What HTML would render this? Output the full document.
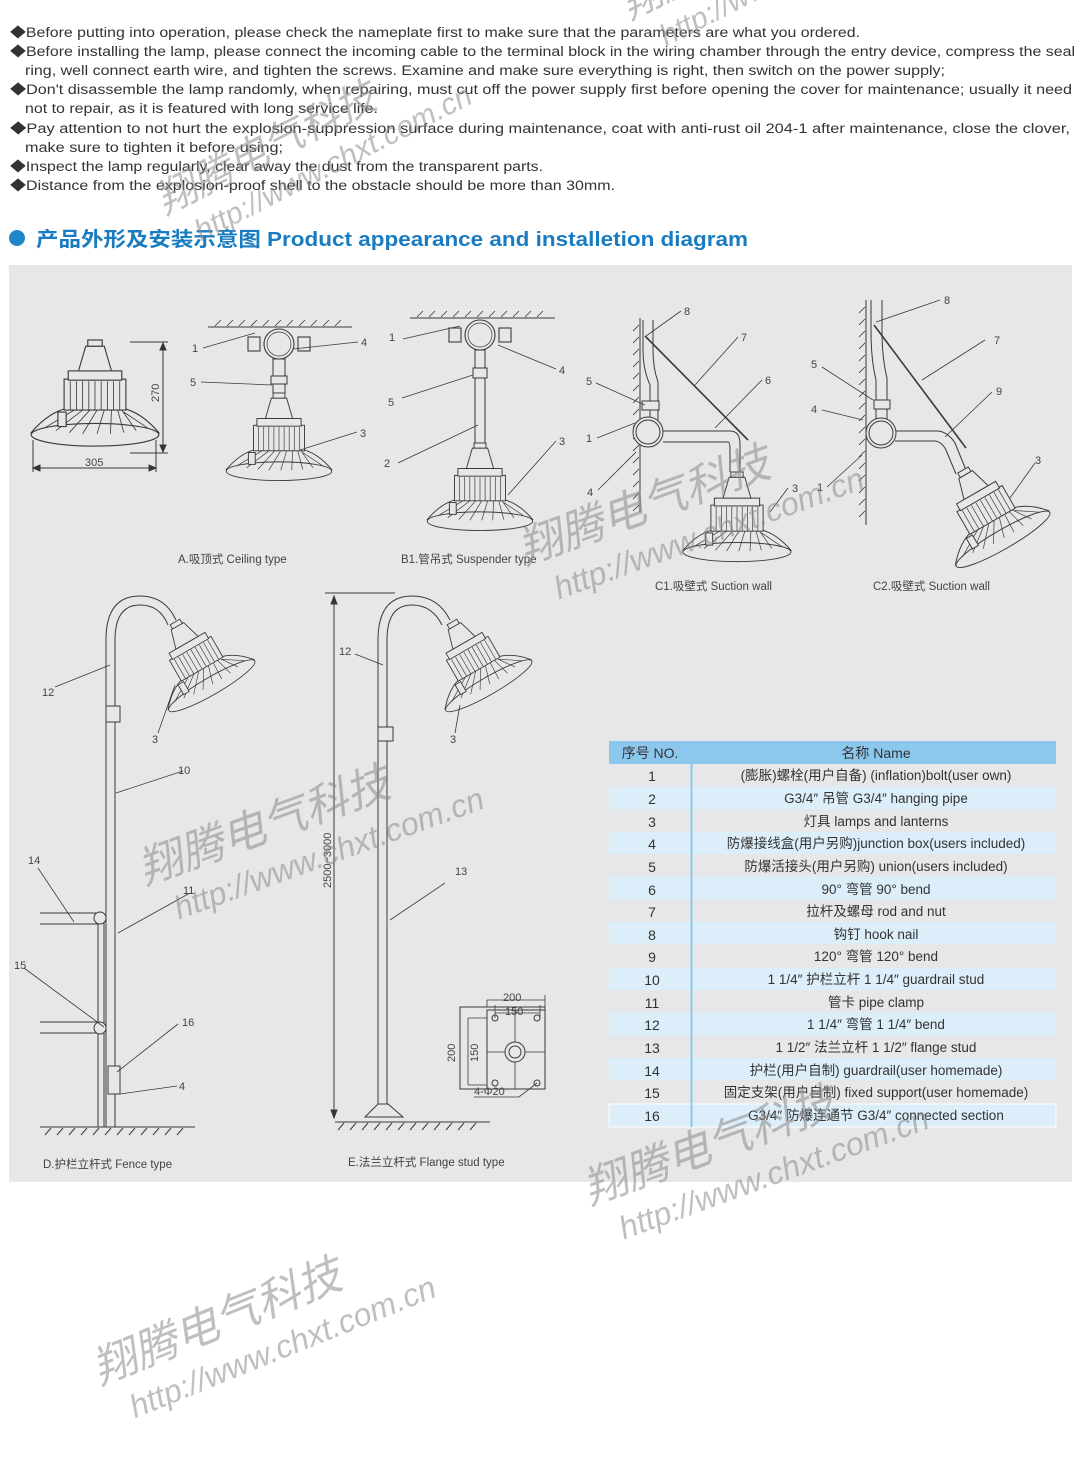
<!DOCTYPE html>
<html><head><meta charset="utf-8"><style>
html,body{margin:0;padding:0;background:#fff;}
svg{display:block;}
text{font-family:"Liberation Sans","Noto Sans CJK SC",sans-serif;}
</style></head><body>
<svg width="1085" height="1460" viewBox="0 0 1085 1460" xmlns="http://www.w3.org/2000/svg">
<defs>
<g id="lamp" fill="#e6e7e8" stroke="#3a3a3a" stroke-width="1.1">
  <path d="M-62 90 Q-45 70 -26 66 L26 66 Q45 70 62 90 Z"/>
  <ellipse cx="0" cy="92" rx="62" ry="11"/>
  <path d="M-50 86 L-20 68 M-38 88 L-12 68 M-25 90 L-5 68 M-12 91 L2 68 M2 91 L9 68 M15 91 L16 68 M28 90 L22 68 M40 88 L26 68 M52 86 L28 70" fill="none" stroke-width="0.8"/>
  <rect x="-30" y="38" width="60" height="30"/>
  <path d="M-24 40 V68 M-18 40 V68 M-12 40 V68 M-6 40 V68 M0 40 V68 M6 40 V68 M12 40 V68 M18 40 V68 M24 40 V68" stroke-width="0.8"/>
  <rect x="-26" y="30" width="52" height="9"/>
  <path d="M-9 6 L9 6 L16 30 L-16 30 Z"/>
  <rect x="-7" y="0" width="14" height="6"/>
  <rect x="-36" y="70" width="8" height="14"/>
</g>
<g id="box" fill="#e6e7e8" stroke="#3a3a3a" stroke-width="1.1">
  <rect x="-31" y="-7" width="12" height="14"/>
  <rect x="19" y="-7" width="12" height="14"/>
  <circle cx="0" cy="0" r="15"/>
  <circle cx="0" cy="0" r="12" fill="none" stroke-width="0.7"/>
</g>
</defs>

<!-- top notes -->
<g font-size="13.5" fill="#333" lengthAdjust="spacingAndGlyphs">
<text x="10" y="37" textLength="850" lengthAdjust="spacingAndGlyphs">◆Before putting into operation, please check the nameplate first to make sure that the parameters are what you ordered.</text>
<text x="10" y="56" textLength="1065" lengthAdjust="spacingAndGlyphs">◆Before installing the lamp, please connect the incoming cable to the terminal block in the wiring chamber through the entry device, compress the seal</text>
<text x="25" y="75" textLength="920" lengthAdjust="spacingAndGlyphs">ring, well connect earth wire, and tighten the screws. Examine and make sure everything is right, then switch on the power supply;</text>
<text x="10" y="94" textLength="1062" lengthAdjust="spacingAndGlyphs">◆Don't disassemble the lamp randomly, when repairing, must cut off the power supply first before opening the cover for maintenance; usually it need</text>
<text x="25" y="113" textLength="353" lengthAdjust="spacingAndGlyphs">not to repair, as it is featured with long service life.</text>
<text x="10" y="133" textLength="1060" lengthAdjust="spacingAndGlyphs">◆Pay attention to not hurt the explosion-suppression surface during maintenance, coat with anti-rust oil 204-1 after maintenance, close the clover,</text>
<text x="25" y="152" textLength="258" lengthAdjust="spacingAndGlyphs">make sure to tighten it before using;</text>
<text x="10" y="171" textLength="533" lengthAdjust="spacingAndGlyphs">◆Inspect the lamp regularly, clear away the dust from the transparent parts.</text>
<text x="10" y="190" textLength="605" lengthAdjust="spacingAndGlyphs">◆Distance from the explosion-proof shell to the obstacle should be more than 30mm.</text>
</g>
<circle cx="17" cy="238" r="8" fill="#1f86c8"/>
<text x="36" y="246" font-size="20" font-weight="bold" fill="#1a7cc0" textLength="712" lengthAdjust="spacingAndGlyphs">产品外形及安装示意图 Product appearance and installetion diagram</text>

<!-- panel -->
<rect x="9" y="265" width="1063" height="917" fill="#e6e7e8"/>

<g stroke="#3a3a3a" stroke-width="1" fill="none">
<!-- A left lamp -->
<use href="#lamp" transform="translate(95,340) scale(1.03)"/>
<line x1="130" y1="342" x2="168" y2="342"/><line x1="130" y1="453" x2="168" y2="453"/>
<line x1="163" y1="346" x2="163" y2="449"/>
<path d="M160 350 L163 343 L166 350 Z M160 445 L163 452 L166 445Z" fill="#333"/>
<line x1="33" y1="440" x2="33" y2="472"/><line x1="156" y1="440" x2="156" y2="472"/>
<line x1="36" y1="468" x2="153" y2="468"/>
<path d="M40 465 L33 468 L40 471Z M149 465 L156 468 L149 471Z" fill="#333"/>

<!-- A right -->
<line x1="208" y1="327" x2="352" y2="327"/>
<path d="M215 326 l6 -6 M227 326 l6 -6 M239 326 l6 -6 M251 326 l6 -6 M263 326 l6 -6 M275 326 l6 -6 M287 326 l6 -6 M299 326 l6 -6 M311 326 l6 -6 M323 326 l6 -6 M335 326 l6 -6" stroke-width="0.8"/>
<use href="#box" transform="translate(279,344)"/>
<rect x="273" y="359" width="12" height="34" fill="#e6e7e8"/>
<rect x="271" y="376" width="16" height="8" fill="#e6e7e8"/>
<use href="#lamp" transform="translate(279,393) scale(0.85)"/>
<path d="M203 348 L255 333 M358 342 L293 349 M201 382 L272 385 M357 432 L300 450" stroke-width="0.8"/>

<!-- B1 -->
<line x1="410" y1="318" x2="555" y2="318"/>
<path d="M417 317 l6 -6 M429 317 l6 -6 M441 317 l6 -6 M453 317 l6 -6 M465 317 l6 -6 M477 317 l6 -6 M489 317 l6 -6 M501 317 l6 -6 M513 317 l6 -6 M525 317 l6 -6 M537 317 l6 -6" stroke-width="0.8"/>
<use href="#box" transform="translate(480,335)"/>
<rect x="475" y="350" width="10" height="95" fill="#e6e7e8"/>
<rect x="473" y="368" width="14" height="10" fill="#e6e7e8"/>
<use href="#lamp" transform="translate(480,443) scale(0.85)"/>
<path d="M403 339 L460 326 M556 369 L498 345 M402 398 L473 375 M398 463 L478 425 M556 441 L508 495" stroke-width="0.8"/>

<!-- C1 -->
<line x1="640" y1="318" x2="640" y2="512"/>
<path d="M639 325 l-6 6 M639 337 l-6 6 M639 349 l-6 6 M639 361 l-6 6 M639 373 l-6 6 M639 385 l-6 6 M639 397 l-6 6 M639 409 l-6 6 M639 421 l-6 6 M639 433 l-6 6 M639 445 l-6 6 M639 457 l-6 6 M639 469 l-6 6 M639 481 l-6 6 M639 493 l-6 6 M639 505 l-6 6" stroke-width="0.8"/>
<path d="M643 320 V350 Q643 370 650 385 V420 M653 320 V350 Q653 368 658 382 V420" />
<rect x="642" y="401" width="17" height="9" fill="#e6e7e8"/>
<path d="M663 431 H730 Q740 431 740 444 V472 M663 442 H728 Q730 442 730 450 V472"/>
<circle cx="648" cy="432" r="15" fill="#e6e7e8"/>
<circle cx="648" cy="432" r="12"/>
<line x1="645" y1="336" x2="748" y2="440" stroke-width="1.6"/>
<use href="#lamp" transform="translate(737,472) scale(0.87)"/>
<path d="M596 383 L645 405 M597 438 L635 423 M598 490 L636 452 M681 311 L646 336 M738 337 L695 385 M762 380 L715 428 M788 488 L770 512" stroke-width="0.8"/>

<!-- C2 -->
<line x1="866" y1="300" x2="866" y2="525"/>
<path d="M865 307 l-6 6 M865 319 l-6 6 M865 331 l-6 6 M865 343 l-6 6 M865 355 l-6 6 M865 367 l-6 6 M865 379 l-6 6 M865 391 l-6 6 M865 403 l-6 6 M865 415 l-6 6 M865 427 l-6 6 M865 439 l-6 6 M865 451 l-6 6 M865 463 l-6 6 M865 475 l-6 6 M865 487 l-6 6 M865 499 l-6 6 M865 511 l-6 6" stroke-width="0.8"/>
<path d="M871 300 V330 Q871 360 876 380 V420 M882 300 V330 Q882 358 887 378 V420"/>
<rect x="874" y="400" width="16" height="9" fill="#e6e7e8"/>
<path d="M895 431 H938 Q948 432 955 443 L966 470 M895 441 H935 Q942 442 946 450 L956 474"/>
<circle cx="881" cy="433" r="15" fill="#e6e7e8"/>
<circle cx="881" cy="433" r="12"/>
<line x1="874" y1="325" x2="966" y2="448" stroke-width="1.6"/>
<use href="#lamp" transform="translate(963,470) rotate(-30) scale(0.87)"/>
<path d="M940 300 L876 322 M985 340 L922 380 M822 367 L873 400 M822 410 L863 420 M827 487 L862 455 M992 392 L945 437 M1035 463 L1010 498" stroke-width="0.8"/>

<!-- D fence -->
<path d="M106 1127 V640 Q106 596 140 596 Q165 596 176 620 M115 1127 V640 Q115 605 140 605 Q160 605 168 625"/>
<rect x="106" y="706" width="14" height="16" fill="#e6e7e8"/>
<use href="#lamp" transform="translate(175,622) rotate(-30) scale(0.8)"/>
<line x1="40" y1="1127" x2="195" y2="1127"/>
<path d="M45 1135 l6 -7 M57 1135 l6 -7 M69 1135 l6 -7 M81 1135 l6 -7 M93 1135 l6 -7 M105 1135 l6 -7 M117 1135 l6 -7 M129 1135 l6 -7 M141 1135 l6 -7 M153 1135 l6 -7 M165 1135 l6 -7 M177 1135 l6 -7"/>
<path d="M98 1127 V920 M104 1127 V920"/>
<path d="M40 913 H100 M40 924 H100 M40 1022 H100 M40 1033 H100"/>
<circle cx="100" cy="918" r="6" fill="#e6e7e8"/><circle cx="100" cy="1028" r="6" fill="#e6e7e8"/>
<rect x="108" y="1066" width="12" height="28" fill="#e6e7e8"/>
<path d="M55 687 L110 665 M158 733 L175 685 M183 771 L116 793 M38 868 L74 922 M190 893 L118 933 M24 968 L104 1027 M178 1024 L117 1072 M177 1086 L120 1094" stroke-width="0.8"/>

<!-- E flange -->
<line x1="325" y1="593" x2="395" y2="593"/>
<line x1="334" y1="597" x2="334" y2="1116"/>
<path d="M331 604 L334 596 L337 604Z M331 1110 L334 1118 L337 1110Z" fill="#333"/>
<path d="M378 1112 V640 Q378 596 412 596 Q438 596 450 620 M387 1112 V640 Q387 605 412 605 Q432 605 442 625"/>
<rect x="378" y="727" width="15" height="14" fill="#e6e7e8"/>
<use href="#lamp" transform="translate(452,622) rotate(-30) scale(0.8)"/>
<path d="M365 1117 L378 1104 H388 L403 1117 Z" fill="#e6e7e8"/>
<line x1="335" y1="1122" x2="490" y2="1122"/>
<path d="M338 1130 l6 -7 M350 1130 l6 -7 M362 1130 l6 -7 M374 1130 l6 -7 M386 1130 l6 -7 M398 1130 l6 -7 M410 1130 l6 -7 M422 1130 l6 -7 M434 1130 l6 -7 M446 1130 l6 -7 M458 1130 l6 -7 M470 1130 l6 -7"/>
<path d="M355 654 L383 665 M455 733 L460 705 M445 883 L390 920" stroke-width="0.8"/>
<!-- plate -->
<rect x="460" y="1007" width="85" height="82" fill="#e6e7e8"/>
<rect x="487" y="1010" width="58" height="79" fill="none"/>
<path d="M515 1010 V1089 M487 1052 H545 M487 1007 V1000 M545 1007 V995 M495 1018 V1005 M540 1018 V1005 M487 1000 H545 M495 1013 H540 M468 1018 H487 M468 1018 V1085 M468 1085 H487" stroke-width="0.8"/>
<circle cx="515" cy="1052" r="10" fill="#e6e7e8"/><circle cx="515" cy="1052" r="6"/>
<circle cx="495" cy="1018" r="3"/><circle cx="537" cy="1018" r="3"/><circle cx="495" cy="1083" r="3"/><circle cx="537" cy="1083" r="3"/>
<path d="M474 1097 H519 L537 1083" stroke-width="0.8"/>
</g>

<g font-size="11" fill="#444">
<text x="192" y="352">1</text><text x="361" y="346">4</text><text x="190" y="386">5</text><text x="360" y="437">3</text>
<text x="389" y="341">1</text><text x="559" y="374">4</text><text x="388" y="406">5</text><text x="384" y="467">2</text><text x="559" y="445">3</text>
<text x="684" y="315">8</text><text x="741" y="341">7</text><text x="765" y="384">6</text><text x="586" y="385">5</text><text x="586" y="442">1</text><text x="587" y="496">4</text><text x="792" y="492">3</text>
<text x="944" y="304">8</text><text x="994" y="344">7</text><text x="811" y="368">5</text><text x="811" y="413">4</text><text x="996" y="395">9</text><text x="817" y="491">1</text><text x="1035" y="464">3</text>
<text x="42" y="696">12</text><text x="152" y="743">3</text><text x="178" y="774">10</text><text x="28" y="864">14</text><text x="183" y="894">11</text><text x="14" y="969">15</text><text x="182" y="1026">16</text><text x="179" y="1090">4</text>
<text x="339" y="655">12</text><text x="450" y="743">3</text><text x="455" y="875">13</text>
<text x="503" y="1001">200</text><text x="505" y="1015">150</text><text x="474" y="1095">4-Φ20</text>
<text transform="translate(455,1062) rotate(-90)">200</text>
<text transform="translate(478,1062) rotate(-90)">150</text>
<text transform="translate(159,402) rotate(-90)">270</text>
<text x="85" y="466">305</text>
<text transform="translate(331,888) rotate(-90)">2500~3000</text>
</g>
<g font-size="11.5" fill="#444">
<text x="178" y="563">A.吸顶式 Ceiling type</text>
<text x="401" y="563">B1.管吊式 Suspender type</text>
<text x="655" y="590">C1.吸壁式  Suction wall</text>
<text x="873" y="590">C2.吸壁式  Suction wall</text>
<text x="43" y="1168">D.护栏立杆式  Fence type</text>
<text x="348" y="1166">E.法兰立杆式  Flange stud type</text>
</g>

<!-- table -->
<g>
<rect x="609" y="741" width="447" height="23" fill="#8cc8ee"/>
<g fill="#dceefa">
<rect x="609" y="787" width="447" height="22"/><rect x="609" y="832" width="447" height="22"/>
<rect x="609" y="877" width="447" height="22"/><rect x="609" y="922" width="447" height="22"/>
<rect x="609" y="968" width="447" height="22"/><rect x="609" y="1013" width="447" height="22"/>
<rect x="609" y="1058" width="447" height="22"/><rect x="609" y="1104" width="447" height="23" stroke="#fff"/>
</g>
<line x1="691.5" y1="741" x2="691.5" y2="1127" stroke="#8cc8ee" stroke-width="2"/>
</g>
<g font-size="14" fill="#333" text-anchor="middle">
<text x="650" y="758">序号 NO.</text><text x="876" y="758">名称 Name</text>
</g>
<g font-size="14" fill="#333" text-anchor="middle">
<text x="652" y="781">1</text><text x="652" y="804">2</text><text x="652" y="827">3</text><text x="652" y="849">4</text><text x="652" y="872">5</text><text x="652" y="895">6</text><text x="652" y="917">7</text><text x="652" y="940">8</text><text x="652" y="962">9</text><text x="652" y="985">10</text><text x="652" y="1008">11</text><text x="652" y="1030">12</text><text x="652" y="1053">13</text><text x="652" y="1076">14</text><text x="652" y="1098">15</text><text x="652" y="1121">16</text>
</g>
<g font-size="13.5" fill="#333" text-anchor="middle">
<text x="876" y="780">(膨胀)螺栓(用户自备) (inflation)bolt(user own)</text>
<text x="876" y="803">G3/4″  吊管  G3/4″  hanging pipe</text>
<text x="876" y="826">灯具  lamps and lanterns</text>
<text x="876" y="848">防爆接线盒(用户另购)junction box(users included)</text>
<text x="876" y="871">防爆活接头(用户另购) union(users included)</text>
<text x="876" y="894">90°  弯管  90°  bend</text>
<text x="876" y="916">拉杆及螺母 rod and nut</text>
<text x="876" y="939">钩钉  hook nail</text>
<text x="876" y="961">120°  弯管  120°  bend</text>
<text x="876" y="984">1 1/4″  护栏立杆  1 1/4″  guardrail stud</text>
<text x="876" y="1007">管卡  pipe clamp</text>
<text x="876" y="1029">1 1/4″  弯管  1 1/4″  bend</text>
<text x="876" y="1052">1 1/2″  法兰立杆  1 1/2″  flange stud</text>
<text x="876" y="1075">护栏(用户自制)  guardrail(user homemade)</text>
<text x="876" y="1097">固定支架(用户自制) fixed support(user homemade)</text>
<text x="876" y="1120">G3/4″ 防爆连通节  G3/4″  connected section</text>
</g>

<!-- watermarks -->
<g fill="#8a8a8a" fill-opacity="0.55" font-style="italic">
<g transform="translate(165,215) rotate(-27)"><text font-size="40">翔腾电气科技</text><text x="20" y="40" font-size="30">http://www.chxt.com.cn</text></g>
<g transform="translate(630,20) rotate(-27)"><text font-size="40">翔腾电气</text><text x="20" y="40" font-size="30">http://www.</text></g>
<g transform="translate(525,565) rotate(-20)"><text font-size="44">翔腾电气科技</text><text x="20" y="44" font-size="32">http://www.chxt.com.cn</text></g>
<g transform="translate(145,885) rotate(-20)"><text font-size="44">翔腾电气科技</text><text x="20" y="44" font-size="32">http://www.chxt.com.cn</text></g>
<g transform="translate(590,1205) rotate(-20)"><text font-size="44">翔腾电气科技</text><text x="20" y="44" font-size="32">http://www.chxt.com.cn</text></g>
<g transform="translate(100,1385) rotate(-22)"><text font-size="44">翔腾电气科技</text><text x="20" y="44" font-size="32">http://www.chxt.com.cn</text></g>
</g>
</svg>
</body></html>
